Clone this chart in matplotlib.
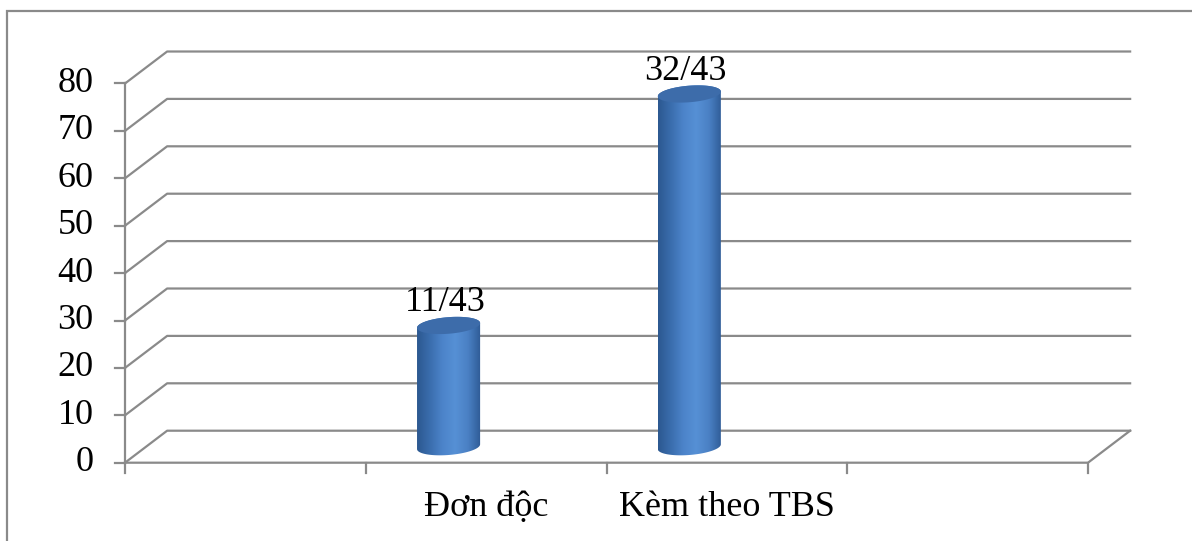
import numpy as np
import matplotlib
matplotlib.use("Agg")
import matplotlib.pyplot as plt
from matplotlib.patches import Polygon, Rectangle
from matplotlib.colors import LinearSegmentedColormap

plt.rcParams['font.family'] = ['Liberation Serif', 'DejaVu Serif']

# datos
categorias = ["", "Đơn độc", "Kèm theo TBS", ""]
casos = [0, 11, 32, 0]
total = 43
porcentajes = [c / total * 100 for c in casos]
yticks = [0, 10, 20, 30, 40, 50, 60, 70, 80]

gris = "#8a8a8a"
dx, dy = 0.175, 6.75       # profundidad del efecto 3D
ancho = 0.262               # ancho del cilindro
b = 1.75                    # semieje vertical de la elipse
k = 0.5                     # inclinacion de la elipse
desplaz = -0.156            # desplazamiento del cilindro respecto a la categoria
fs = 26

fig = plt.figure(figsize=(11.92, 5.41), dpi=100)
ax = fig.add_axes([0, 0, 1, 1])
ax.axis("off")

# marco exterior
ax.add_patch(Rectangle((7 / 1192, -0.05), 1.1, 1 - 11 / 541 + 0.05,
                       transform=ax.transAxes, fill=False, ec=gris, lw=1.6))

n = len(categorias)
# rejilla en perspectiva
for v in yticks:
    ax.plot([0, dx, n + dx], [v, v + dy, v + dy], color=gris, lw=1.6, zorder=1)
    ax.plot([-0.042, 0], [v, v], color=gris, lw=1.6, zorder=1)
    ax.text(-0.13, v, str(v), ha="right", va="center", fontsize=fs)
ax.plot([0, 0], [0, yticks[-1]], color=gris, lw=1.6, zorder=1)
ax.plot([0, n, n + dx], [0, 0, dy], color=gris, lw=1.6, zorder=1)
for i in range(n + 1):
    ax.plot([i, i], [0, -2.1], color=gris, lw=1.6, zorder=1)

for i, cat in enumerate(categorias):
    ax.text(i + 0.5, -11.3, cat, ha="center", va="baseline", fontsize=fs)

cmap = LinearSegmentedColormap.from_list(
    "cil", ["#2c5890", "#3a6dad", "#4c84ca", "#5690d5", "#4a80c4", "#2e5b95"])
t = np.linspace(0, 2 * np.pi, 120)

for i, val in enumerate(porcentajes):
    if casos[i] == 0:
        continue
    cx = i + 0.5 + desplaz
    a = ancho / 2
    y0 = dy / 2
    y1 = val + dy / 2
    # cuerpo: mitad inferior de la base + mitad superior de la tapa
    tb = np.linspace(np.pi, 2 * np.pi, 60)
    tt = np.linspace(0, np.pi, 60)
    xs = np.concatenate([cx + a * np.cos(tb), cx + a * np.cos(tt)])
    ys = np.concatenate([y0 + b * np.sin(tb) + k * np.cos(tb),
                         y1 + b * np.sin(tt) + k * np.cos(tt)])
    cuerpo = Polygon(np.column_stack([xs, ys]), closed=True, fc="none", ec="none")
    ax.add_patch(cuerpo)
    grad = np.linspace(0, 1, 256).reshape(1, -1)
    im = ax.imshow(grad, extent=[cx - a, cx + a, y0 - b - k, y1 + b + k],
                   aspect="auto", cmap=cmap, zorder=2)
    im.set_clip_path(cuerpo)
    tapa = np.column_stack([cx + a * np.cos(t), y1 + b * np.sin(t) + k * np.cos(t)])
    ax.add_patch(Polygon(tapa, closed=True, fc="#3d6caa", ec="none", zorder=3))
    ax.text(cx - 0.015, y1 + 1.3, f"{casos[i]}/{total}", ha="center", va="bottom",
            fontsize=fs, zorder=4)

ax.set_xlim(-125 / 240.75, (1192 - 125) / 240.75)
ax.set_ylim((462.7 - 541) / 4.74, 462.7 / 4.74)

fig.savefig("out.png", dpi=100)
